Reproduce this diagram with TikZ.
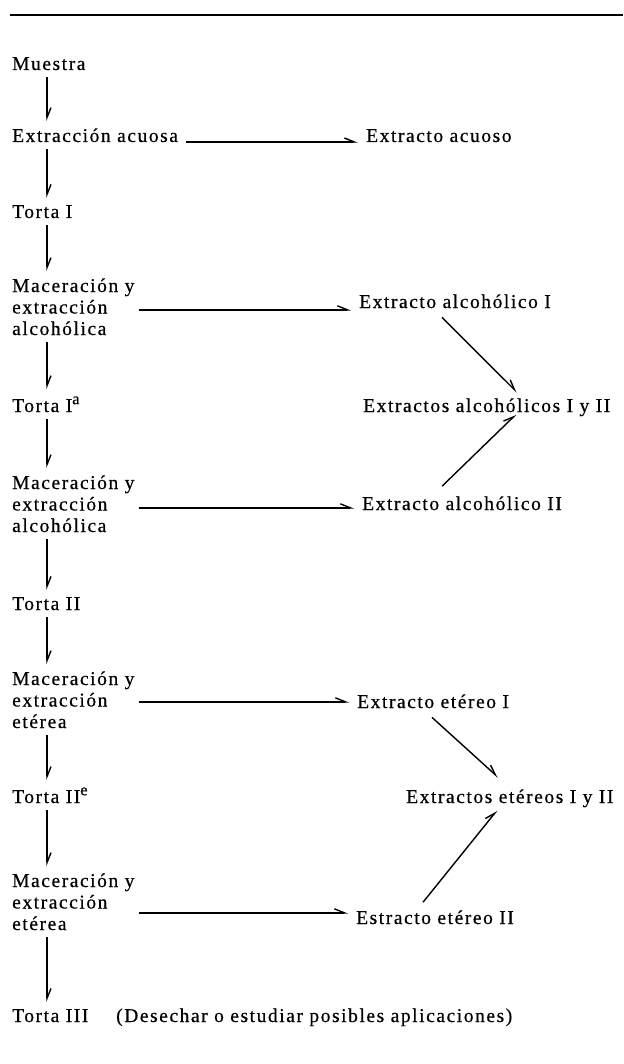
\documentclass[tikz,border=0pt]{standalone}
\usepackage{fontspec}
\setmainfont{Liberation Serif}[LetterSpace=8, FakeBold=0.5]
\usetikzlibrary{arrows.meta,calc}

\newcommand{\indice}[1]{\raisebox{0.4em}{\fontsize{16.5}{16.5}\selectfont #1}}

\tikzset{
  paso/.style = {anchor=base west, inner sep=0pt, align=left,
                 font=\fontsize{19.5}{21.5}\selectfont},
  flujo/.style = {-{Straight Barb[harpoon,length=10pt,width=8pt]}, line width=1.4pt},
  baja/.style = {flujo, shorten <=7pt, shorten >=7pt},
  lateral/.style = {flujo, shorten <=4pt, shorten >=8pt}
}

\begin{document}
\begin{tikzpicture}[x = 1pt, y = -1pt]
\useasboundingbox (0,0) rectangle (623,1064);
\draw[line width=2.5pt] (10,15) -- (623,15);

% left column (multi-line steps sit on their last line)
\coordinate (tallo) at (47,0);
\node[paso] (muestra) at (12,70) {Muestra};
\node[paso] (acuosa) at (12,142) {Extracción acuosa};
\node[paso] (tortaI) at (12,218) {Torta I};
\node[paso] (mac1) at (12,335) {Maceración y\\extracción\\alcohólica};
\node[paso] (tortaIa) at (12,412) {Torta I\indice{a}};
\node[paso] (mac2) at (12,532) {Maceración y\\extracción\\alcohólica};
\node[paso] (tortaII) at (12,610) {Torta II};
\node[paso] (mac3) at (12,728) {Maceración y\\extracción\\etérea};
\node[paso] (tortaIIe) at (12,803) {Torta II\indice{e}};
\node[paso] (mac4) at (12,930) {Maceración y\\extracción\\etérea};
\node[paso] (tortaIII) at (12,1022) {Torta III};
\node[paso] (desecho) at (116,1022) {(Desechar o estudiar posibles aplicaciones)};

% right column
\node[paso] (acuoso) at (366,142) {Extracto acuoso};
\node[paso] (alc1) at (359,308) {Extracto alcohólico I};
\node[paso] (alcs) at (363,412) {Extractos alcohólicos I y II};
\node[paso] (alc2) at (362,510) {Extracto alcohólico II};
\node[paso] (ete1) at (357,708) {Extracto etéreo I};
\node[paso] (etes) at (406,803) {Extractos etéreos I y II};
\node[paso] (ete2) at (356,924) {Estracto etéreo II};

% main line
\draw[baja] (muestra.south -| tallo) -- (acuosa.north -| tallo);
\draw[baja] (acuosa.south -| tallo) -- (tortaI.north -| tallo);
\draw[baja] (tortaI.south -| tallo) -- (mac1.north -| tallo);
\draw[baja] (mac1.south -| tallo) -- (tortaIa.north -| tallo);
\draw[baja] (tortaIa.south -| tallo) -- (mac2.north -| tallo);
\draw[baja] (mac2.south -| tallo) -- (tortaII.north -| tallo);
\draw[baja] (tortaII.south -| tallo) -- (mac3.north -| tallo);
\draw[baja] (mac3.south -| tallo) -- (tortaIIe.north -| tallo);
\draw[baja] (tortaIIe.south -| tallo) -- (mac4.north -| tallo);
\draw[baja] (mac4.south -| tallo) -- (tortaIII.north -| tallo);

% extracts
\draw[lateral] ([xshift=4pt]acuosa.base east) -- (acuosa.base east -| acuoso.west);
\draw[lateral] ([yshift=-3pt]mac1.east) -- ([yshift=-3pt]mac1.east -| alc1.west);
\draw[lateral] ([yshift=-4pt]mac2.east) -- ([yshift=-4pt]mac2.east -| alc2.west);
\draw[lateral] ([yshift=-2pt]mac3.east) -- ([yshift=-2pt]mac3.east -| ete1.west);
\draw[lateral] ([yshift=-11pt]mac4.east) -- ([yshift=-11pt]mac4.east -| ete2.west);

% joined extracts
\draw[flujo] ([shift={(83pt,-9pt)}]alc1.south west) -- ([shift={(154pt,6pt)}]alcs.north west);
\draw[flujo] ([shift={(80pt,10pt)}]alc2.north west) -- ([shift={(153pt,2pt)}]alcs.south west);
\draw[flujo] ([shift={(75pt,-9pt)}]ete1.south west) -- ([shift={(92pt,12pt)}]etes.north west);
\draw[flujo] ([shift={(67pt,8pt)}]ete2.north west) -- ([shift={(91pt,-3pt)}]etes.south west);

\end{tikzpicture}
\end{document}
